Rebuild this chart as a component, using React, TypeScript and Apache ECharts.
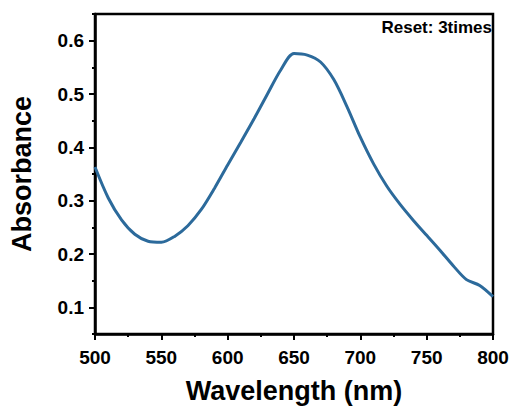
import React, { useEffect, useRef } from "react";
import * as echarts from "echarts";

const wavelengths = [500, 510, 520, 530, 540, 550, 560, 570, 580, 590, 600, 610, 620, 630, 640, 650, 660, 670, 680, 690, 700, 710, 720, 730, 740, 750, 760, 770, 780, 790, 800];
const absorbance = [0.363, 0.305, 0.264, 0.237, 0.224, 0.222, 0.233, 0.253, 0.283, 0.323, 0.367, 0.41, 0.454, 0.5, 0.545, 0.576, 0.573, 0.56, 0.527, 0.476, 0.419, 0.369, 0.327, 0.293, 0.263, 0.235, 0.207, 0.178, 0.152, 0.141, 0.12];
const yMajorTicks = [0.1, 0.2, 0.3, 0.4, 0.5, 0.6];
const yMinorTicks = [0.05, 0.15, 0.25, 0.35, 0.45, 0.55, 0.65];
const annotation = "Reset: 3times";

export default function App() {
  const ref = useRef<HTMLDivElement>(null);
  useEffect(() => {
    const chart = echarts.init(ref.current!, null, { renderer: "svg" });
    const font = "Liberation Sans, Arial, sans-serif";
    chart.setOption({
      animation: false,
      grid: { left: 95, right: 23, top: 14, bottom: 76, show: true, borderColor: "#000", borderWidth: 2.5, backgroundColor: "transparent" },
      xAxis: {
        type: "value",
        min: 500,
        max: 800,
        interval: 50,
        name: "Wavelength (nm)",
        nameLocation: "middle",
        nameGap: 43,
        nameTextStyle: { fontFamily: font, fontWeight: "bold", fontSize: 27, color: "#000" },
        axisLine: { show: true, lineStyle: { color: "#000", width: 2.5 } },
        axisTick: { show: true, length: 6, lineStyle: { color: "#000", width: 2 } },
        minorTick: { show: true, splitNumber: 2, length: 3, lineStyle: { color: "#000", width: 2 } },
        axisLabel: { fontFamily: font, fontWeight: "bold", fontSize: 19, color: "#000", margin: 14 },
        splitLine: { show: false },
      },
      yAxis: [
        {
          type: "value",
          min: 0.05,
          max: 0.65,
          name: "Absorbance",
          nameLocation: "middle",
          nameGap: 60,
          nameTextStyle: { fontFamily: font, fontWeight: "bold", fontSize: 27, color: "#000" },
          axisLine: { show: true, lineStyle: { color: "#000", width: 2.5 } },
          axisTick: { show: true, length: 6, customValues: yMajorTicks, lineStyle: { color: "#000", width: 2 } },
          axisLabel: { customValues: yMajorTicks, fontFamily: font, fontWeight: "bold", fontSize: 19, color: "#000", margin: 11, formatter: (v: number) => v.toFixed(1) },
          splitLine: { show: false },
        },
        {
          type: "value",
          min: 0.05,
          max: 0.65,
          position: "left",
          axisLine: { show: false },
          axisTick: { show: true, length: 3, customValues: yMinorTicks, lineStyle: { color: "#000", width: 2 } },
          axisLabel: { show: false },
          splitLine: { show: false },
        },
      ],
      graphic: [
        {
          type: "text",
          right: 24,
          top: 19,
          style: { text: annotation, fontFamily: font, fontWeight: "bold", fontSize: 17, fill: "#000" },
        },
      ],
      series: [
        {
          type: "line",
          data: wavelengths.map((w, i) => [w, absorbance[i]]),
          smooth: 0.3,
          showSymbol: false,
          lineStyle: { color: "#2c6a9b", width: 3 },
        },
      ],
    });
    return () => chart.dispose();
  }, []);
  return <div ref={ref} style={{ position: "absolute", left: 0, top: 0, width: 516, height: 410 }} />;
}
